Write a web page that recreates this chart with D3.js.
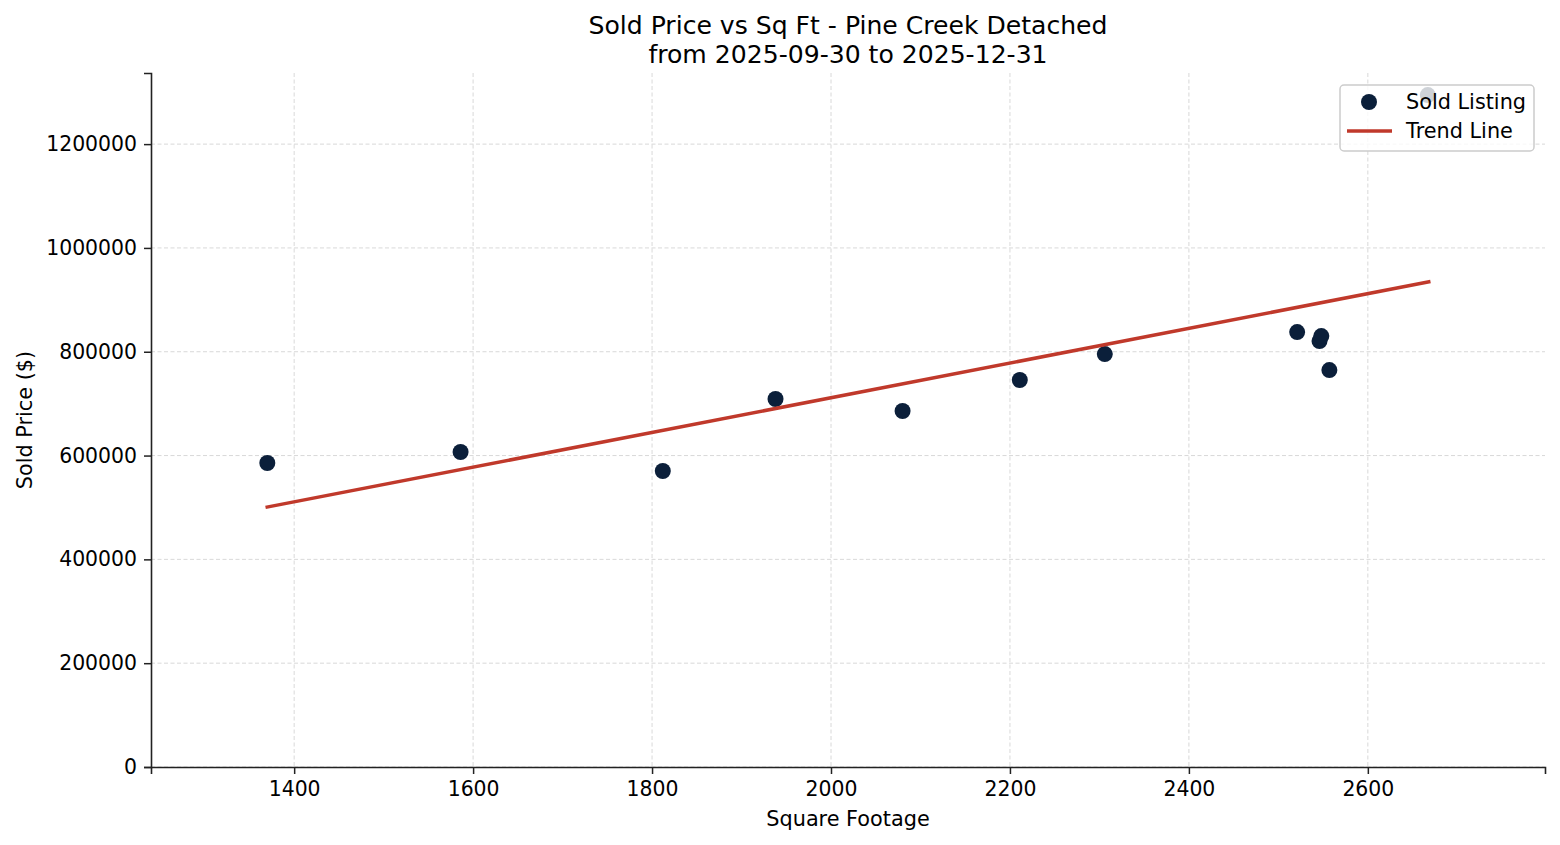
<!DOCTYPE html>
<html>
<head>
  <meta charset="utf-8">
  <script src="https://d3js.org/d3.v7.min.js"></script>
  <style>
  * { font-family: "DejaVu Sans", sans-serif; }
  body { margin: 0; background: #fff; }
  </style>
</head>
<body>
<div id="chart"></div>
<script>
// sold listings
const sqft  = [1370, 1586, 1812, 1938, 2080, 2211, 2306, 2521, 2546, 2548, 2557, 2667];
const price = [585600, 606800, 570200, 708900, 685800, 745500, 795500, 837900, 820600, 830200, 764700, 1294400];

// trend line end points
const trendX = [1368, 2670];
const trendY = [500200, 935300];

const xTicks = [1400, 1600, 1800, 2000, 2200, 2400, 2600];
const yTicks = [0, 200000, 400000, 600000, 800000, 1000000, 1200000];

const titleLines = ["Sold Price vs Sq Ft - Pine Creek Detached", "from 2025-09-30 to 2025-12-31"];

const margin = { top: 73, right: 15, bottom: 78, left: 151 };
const W = 1560, H = 845;
const width = W - margin.left - margin.right;
const height = H - margin.top - margin.bottom;

const svg = d3.select("#chart")
              .append("svg")
              .attr("width", W)
              .attr("height", H);

const g = svg.append("g")
             .attr("transform", `translate(${margin.left},${margin.top})`);

const x = d3.scaleLinear().domain([1240, 2798]).range([0, width]);
const y = d3.scaleLinear().domain([0, 1337000]).range([height, 0]);

// grid
g.append("g")
 .selectAll("line")
 .data(xTicks)
 .join("line")
 .attr("x1", d => x(d)).attr("x2", d => x(d))
 .attr("y1", 0).attr("y2", height)
 .attr("stroke", "#c8c8c8").attr("stroke-opacity", 0.8)
 .attr("stroke-width", 0.9).attr("stroke-dasharray", "4,2.5");
g.append("g")
 .selectAll("line")
 .data(yTicks)
 .join("line")
 .attr("x1", 0).attr("x2", width)
 .attr("y1", d => y(d)).attr("y2", d => y(d))
 .attr("stroke", "#c8c8c8").attr("stroke-opacity", 0.8)
 .attr("stroke-width", 0.9).attr("stroke-dasharray", "4,2.5");

// axes
const xAxis = g.append("g")
   .attr("transform", `translate(0,${height})`)
   .call(d3.axisBottom(x).tickValues(xTicks).tickFormat(d3.format("d")).tickSizeOuter(0).tickSize(7).tickPadding(8));
const yAxis = g.append("g")
   .call(d3.axisLeft(y).tickValues(yTicks).tickFormat(d3.format("d")).tickSizeOuter(0).tickSize(7).tickPadding(7));
[xAxis, yAxis].forEach(a => {
  a.selectAll("text").style("font-size", "20.4px").attr("fill", "#000");
  a.selectAll("line").attr("stroke", "#222").attr("stroke-width", 1.5);
  a.select(".domain").attr("stroke", "#222").attr("stroke-width", 1.6);
});

// points
g.append("g")
 .selectAll("circle")
 .data(sqft)
 .join("circle")
 .attr("cx", (d, i) => x(d))
 .attr("cy", (d, i) => y(price[i]))
 .attr("r", 8)
 .attr("fill", "#0b1f3a");

// trend line
g.append("path")
 .datum(trendX)
 .attr("fill", "none")
 .attr("stroke", "#c0392b")
 .attr("stroke-width", 3.5)
 .attr("d", d3.line().x(d => x(d)).y((d, i) => y(trendY[i])));

// axis labels
svg.append("text")
   .attr("x", margin.left + width / 2).attr("y", 826)
   .attr("text-anchor", "middle").style("font-size", "20.8px")
   .text("Square Footage");
svg.append("text")
   .attr("transform", `translate(32,${margin.top + height / 2}) rotate(-90)`)
   .attr("text-anchor", "middle").style("font-size", "20.8px")
   .text("Sold Price ($)");

// title
svg.append("g")
   .selectAll("text")
   .data(titleLines)
   .join("text")
   .attr("x", margin.left + width / 2)
   .attr("y", (d, i) => 34 + i * 29)
   .attr("text-anchor", "middle")
   .style("font-size", "25.1px")
   .text(d => d);

// legend
const lg = svg.append("g").attr("transform", "translate(1340,85)");
lg.append("rect")
  .attr("width", 194).attr("height", 66).attr("rx", 4)
  .attr("fill", "#fff").attr("fill-opacity", 0.8)
  .attr("stroke", "#cccccc").attr("stroke-width", 1.5);
lg.append("circle").attr("cx", 29).attr("cy", 17).attr("r", 8).attr("fill", "#0b1f3a");
lg.append("line").attr("x1", 7).attr("x2", 52).attr("y1", 46).attr("y2", 46)
  .attr("stroke", "#c0392b").attr("stroke-width", 3.5);
lg.append("text").attr("x", 66).attr("y", 24).style("font-size", "20.8px").text("Sold Listing");
lg.append("text").attr("x", 66).attr("y", 53).style("font-size", "20.8px").text("Trend Line");
</script>
</body>
</html>
